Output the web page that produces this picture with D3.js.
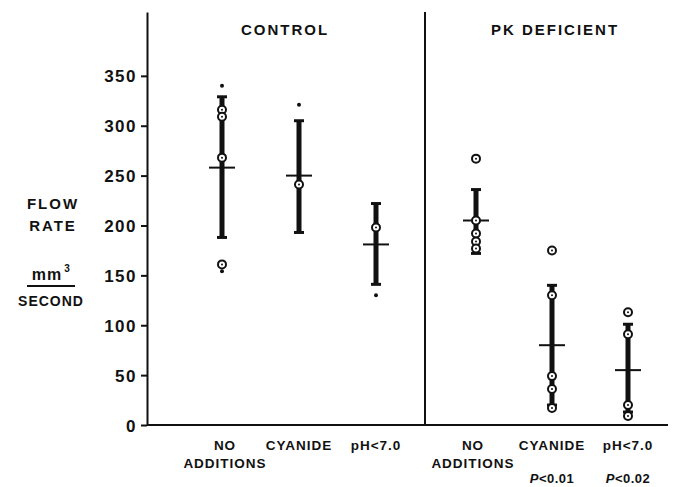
<!DOCTYPE html>
<html>
<head>
<meta charset="utf-8">
<script src="https://cdn.jsdelivr.net/npm/d3@7"></script>
<style>
  body { margin: 0; background: #fff; }
  svg { display: block; }
  text { font-family: "Liberation Sans", Arial, sans-serif; font-weight: bold; fill: #111; }
</style>
</head>
<body>
<script>

// panels and categories
var panels = ["CONTROL", "PK DEFICIENT"];
var categories = ["NO ADDITIONS", "CYANIDE", "pH<7.0"];
var pLabels = [["", "", ""], ["", "P<0.01", "P<0.02"]];

// flow rate, mm3/second
var means  = [[258, 250, 181], [205, 80, 55]];
var barLow = [[188, 193, 141], [172, 20, 13]];
var barHigh = [[329, 305, 222], [236, 140, 101]];
var circles = [
  [[316, 309, 268, 161], [241], [198]],
  [[267, 205, 192, 184, 177], [175, 130, 49, 36, 17], [113, 91, 20, 9]]
];
var dots = [
  [[340, 253, 154], [321], [130]],
  [[], [], []]
];
var yTicks = [0, 50, 100, 150, 200, 250, 300, 350];

var width = 673, height = 487;
var axisX = 147, divX = 425, rightX = 668, baseY = 425, topY = 12;

var svg = d3.select("body").append("svg")
    .attr("width", width)
    .attr("height", height);

var y = d3.scaleLinear()
    .domain([0, 414])
    .range([baseY, topY]);

var xPanel = [
  d3.scalePoint().domain(categories).range([222, 376]),
  d3.scalePoint().domain(categories).range([476, 628])
];

// y axis
var yAxis = d3.axisLeft(y)
    .tickValues(yTicks)
    .tickSize(6)
    .tickSizeOuter(0)
    .tickPadding(4);

var gy = svg.append("g")
    .attr("transform", "translate(" + axisX + ",0)")
    .call(yAxis);
gy.select(".domain").attr("stroke", "#111").attr("stroke-width", 2);
gy.selectAll(".tick line").attr("stroke", "#111").attr("stroke-width", 2);
gy.selectAll(".tick text")
    .style("font-family", "Liberation Sans, Arial, sans-serif")
    .style("font-weight", "bold")
    .style("font-size", "17px")
    .style("letter-spacing", "1.5px")
    .attr("fill", "#111")
    .attr("dy", "0.36em");

// x base line and panel divider
svg.append("line")
    .attr("x1", axisX).attr("x2", rightX)
    .attr("y1", baseY).attr("y2", baseY)
    .attr("stroke", "#111").attr("stroke-width", 2);
svg.append("line")
    .attr("x1", divX).attr("x2", divX)
    .attr("y1", topY).attr("y2", baseY)
    .attr("stroke", "#111").attr("stroke-width", 2);

// panel titles
svg.selectAll(".ptitle")
    .data(panels)
    .enter().append("text")
    .attr("class", "ptitle")
    .attr("x", function(d, i) { return i === 0 ? 285 : 555; })
    .attr("y", 35)
    .attr("text-anchor", "middle")
    .style("font-size", "15px")
    .style("letter-spacing", "2px")
    .text(function(d) { return d; });

// y axis title
var side = svg.append("g").attr("text-anchor", "middle");
side.append("text").attr("x", 53).attr("y", 209).style("font-size", "15px").style("letter-spacing", "2px").text("FLOW");
side.append("text").attr("x", 53).attr("y", 231).style("font-size", "15px").style("letter-spacing", "2px").text("RATE");
side.append("text").attr("x", 47).attr("y", 280).style("font-size", "16px").style("letter-spacing", "1px").text("mm");
side.append("text").attr("x", 67).attr("y", 272).style("font-size", "10px").text("3");
side.append("line").attr("x1", 27).attr("x2", 75).attr("y1", 286).attr("y2", 286)
    .attr("stroke", "#111").attr("stroke-width", 2);
side.append("text").attr("x", 51).attr("y", 306).style("font-size", "14px").style("letter-spacing", "1px").text("SECOND");

// marks
panels.forEach(function(p, pi) {
  var x = xPanel[pi];
  var g = svg.append("g");

  categories.forEach(function(c, ci) {
    var cx = x(c);

    // error bar
    g.append("line")
        .attr("x1", cx).attr("x2", cx)
        .attr("y1", y(barLow[pi][ci])).attr("y2", y(barHigh[pi][ci]))
        .attr("stroke", "#111").attr("stroke-width", 5);
    [barLow[pi][ci], barHigh[pi][ci]].forEach(function(v) {
      g.append("line")
          .attr("x1", cx - 5).attr("x2", cx + 5)
          .attr("y1", y(v)).attr("y2", y(v))
          .attr("stroke", "#111").attr("stroke-width", 3);
    });

    // mean
    g.append("line")
        .attr("x1", cx - 13).attr("x2", cx + 13)
        .attr("y1", y(means[pi][ci])).attr("y2", y(means[pi][ci]))
        .attr("stroke", "#111").attr("stroke-width", 2);

    // single values
    g.selectAll(".pt" + ci)
        .data(circles[pi][ci])
        .enter().append("circle")
        .attr("cx", cx).attr("cy", function(d) { return y(d); })
        .attr("r", 4)
        .attr("fill", "#fff").attr("stroke", "#111").attr("stroke-width", 2);
    g.selectAll(".pc" + ci)
        .data(circles[pi][ci])
        .enter().append("circle")
        .attr("cx", cx).attr("cy", function(d) { return y(d); })
        .attr("r", 1).attr("fill", "#111");
    g.selectAll(".dt" + ci)
        .data(dots[pi][ci])
        .enter().append("circle")
        .attr("cx", cx).attr("cy", function(d) { return y(d); })
        .attr("r", 2).attr("fill", "#111");

    // category labels
    var words = c === "NO ADDITIONS" ? ["NO", "ADDITIONS"] : [c];
    words.forEach(function(w, wi) {
      g.append("text")
          .attr("x", cx + (c === "NO ADDITIONS" ? 3 : 0) - (pi === 1 && c === "NO ADDITIONS" ? 6 : 0))
          .attr("y", 450 + wi * 18)
          .attr("text-anchor", "middle")
          .style("font-size", "13.5px")
          .style("letter-spacing", "1px")
          .text(w);
    });
    if (pLabels[pi][ci]) {
      g.append("text")
          .attr("x", cx)
          .attr("y", 483)
          .attr("text-anchor", "middle")
          .style("font-size", "13px")
          .style("letter-spacing", "0.5px")
          .html("<tspan font-style='italic'>P</tspan>" + pLabels[pi][ci].slice(1));
    }
  });
});

</script>
</body>
</html>
